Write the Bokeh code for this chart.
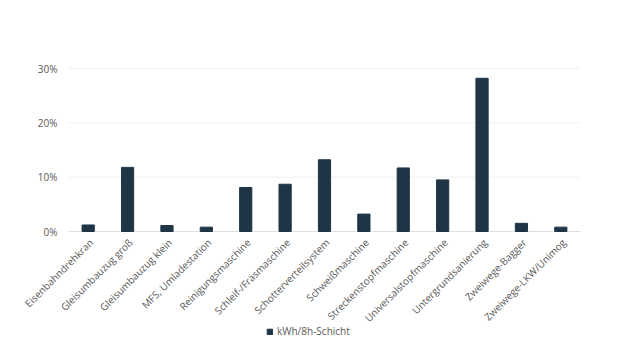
import math
from bokeh.plotting import figure
from bokeh.models import Legend, LegendItem, ColumnDataSource
from bokeh.core.properties import value
from bokeh.embed import file_html
from bokeh.resources import INLINE

categories = ["Eisenbahndrehkran", "Gleisumbauzug groß", "Gleisumbauzug klein",
              "MFS, Umladestation", "Reinigungsmaschine", "Schleif-/Fräsmaschine",
              "Schotterverteilsystem", "Schweißmaschine", "Streckenstopfmaschine",
              "Universalstopfmaschine", "Untergrundsanierung", "Zweiwege-Bagger",
              "Zweiwege-LKW/Unimog"]
values = [0.012, 0.118, 0.011, 0.008, 0.081, 0.087, 0.132, 0.032, 0.117, 0.095, 0.282, 0.015, 0.008]
series_name = "kWh/8h-Schicht"
y_ticks = [0, 0.1, 0.2, 0.3]
y_tick_labels = ["0%", "10%", "20%", "30%"]

BAR = "#1f3546"
TXT = "#595959"
GRID = "#f0f0f0"
FONT = "Open Sans"

# layout in pixels: plot area 512 x 163, 68 px left / 44 px right / 68 px top / 127 px bottom
n = len(categories)
px_x = 512 / n
px_y = 163 / 0.3
x_start = -0.5 - 68 / px_x
x_end = n - 0.5 + 44 / px_x
y_end = 0.3 + 68 / px_y
y_start = -127 / px_y

idx = list(range(n))
src = ColumnDataSource(dict(x=idx, cat=categories, val=values, zero=[0] * n))

p = figure(x_range=(x_start, x_end), y_range=(y_start, y_end),
           frame_width=624, frame_height=358,
           min_border_left=0, min_border_top=0, min_border_right=0, min_border_bottom=0,
           output_backend="svg", toolbar_location=None)
p.xaxis.visible = False
p.yaxis.visible = False
p.grid.visible = False
p.outline_line_color = None
p.background_fill_color = "white"
p.border_fill_color = "white"

# horizontal grid lines across the plot area
grid_src = ColumnDataSource(dict(y=y_ticks, lab=y_tick_labels,
                                 x0=[-0.5] * len(y_ticks), x1=[n - 0.5] * len(y_ticks)))
p.segment(x0="x0", x1="x1", y0="y", y1="y", source=grid_src,
          line_color=GRID, line_width=1)
# category axis line at 0
p.segment(x0=[-0.5], x1=[n - 0.5], y0=[0], y1=[0], line_color="#e0e0e0", line_width=1)

r = p.vbar(x="x", top="val", width=0.31, source=src, color=BAR)

# y tick labels
p.text(x="x0", y="y", text="lab", source=grid_src, x_offset=-11,
       text_align="right", text_baseline="middle",
       text_font=value(FONT), text_font_size=value("10px"), text_color=TXT)

# category labels, rotated 45 degrees, ending at their category
p.text(x="x", y="zero", text="cat", source=src, angle=math.pi / 4,
       text_align="right", text_baseline="middle", x_offset=3, y_offset=9,
       text_font=value(FONT), text_font_size=value("10px"), text_color=TXT)

legend = Legend(items=[LegendItem(label=series_name, renderers=[r])],
                location=(266, 20), orientation="horizontal",
                label_text_font=FONT, label_text_font_size="10px", label_text_color=TXT,
                glyph_width=7, glyph_height=7, border_line_color=None,
                background_fill_alpha=0, margin=0, padding=2, label_standoff=4)
p.add_layout(legend, "center")

open("out.html", "w").write(file_html(p, INLINE))
